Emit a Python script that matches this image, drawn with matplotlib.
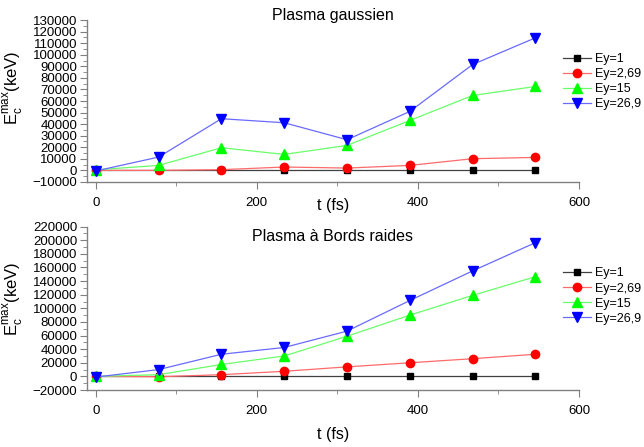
import matplotlib
matplotlib.use("Agg")
import matplotlib.pyplot as plt
from matplotlib.ticker import MultipleLocator

plt.rcParams['font.family'] = ['Liberation Sans', 'DejaVu Sans']

# temps (fs)
t = [0, 78, 156, 234, 312, 390, 468, 546]
labels = ["Ey=1", "Ey=2,69", "Ey=15", "Ey=26,9"]

# Plasma gaussien
g_ey1 = [0, 0, 0, 0, 0, 0, 0, 0]
g_ey269 = [0, 0, 600, 2900, 2000, 4300, 10100, 11200]
g_ey15 = [500, 4300, 19600, 13800, 21600, 43200, 64800, 72600]
g_ey269b = [-500, 11500, 44700, 41200, 26500, 51000, 91600, 114700]

# Plasma à bords raides
b_ey1 = [0, 0, 0, 0, 0, 0, 0, 0]
b_ey269 = [0, -500, 2500, 7500, 14000, 20000, 26000, 32500]
b_ey15 = [0, 2500, 17500, 30000, 59000, 90000, 119000, 146500]
b_ey269b = [-1000, 10000, 32500, 42500, 66500, 111500, 155000, 196500]

markers = ['s', 'o', '^', 'v']
mcolors = ['black', 'red', '#00ff00', 'blue']
lcolors = ['#404040', '#ff6a6a', '#6aff6a', '#6a6aff']
msizes = [5, 6, 7.5, 7.5]

fig = plt.figure(figsize=(6.44, 4.47), dpi=100)
ax1 = fig.add_axes([0.135, 0.593, 0.764, 0.362])
ax2 = fig.add_axes([0.135, 0.1275, 0.764, 0.3655])

def draw(ax, series, ylim, major, minor, title, title_y, leg_y):
    for s, lab, m, mc, lc, ms in zip(series, labels, markers, mcolors, lcolors, msizes):
        ax.plot(t, s, color=lc, lw=0.9, marker=m, markersize=ms,
                markerfacecolor=mc, markeredgecolor=mc, label=lab, clip_on=False)
    ax.set_xlim(-11, 600)
    ax.set_ylim(*ylim)
    ax.xaxis.set_major_locator(MultipleLocator(200))
    ax.xaxis.set_minor_locator(MultipleLocator(100))
    ax.yaxis.set_major_locator(MultipleLocator(major))
    ax.yaxis.set_minor_locator(MultipleLocator(minor))
    for side in ['top', 'right']:
        ax.spines[side].set_visible(False)
    for side in ['left', 'bottom']:
        ax.spines[side].set_color('#808080')
        ax.spines[side].set_linewidth(1.0)
    ax.tick_params(which='both', direction='out', color='#808080')
    ax.tick_params(which='major', length=5)
    ax.tick_params(which='minor', length=3)
    ax.tick_params(axis='x', pad=6, labelsize=9.5)
    ax.tick_params(axis='y', pad=2, labelsize=9.5)
    ax.set_xlabel("t (fs)", fontsize=11.5)
    ax.set_ylabel(r"E$_\mathregular{c}^\mathregular{max}$(keV)", fontsize=12)
    ax.text(0.5, title_y, title, transform=ax.transAxes, ha='center', va='center', fontsize=11.5)
    ax.legend(loc='center left', bbox_to_anchor=(0.967, leg_y), frameon=False,
              fontsize=9, handlelength=2.3, handletextpad=0.25, labelspacing=0.25,
              borderaxespad=0, borderpad=0)

draw(ax1, [g_ey1, g_ey269, g_ey15, g_ey269b], (-10000, 130000), 10000, 5000,
     "Plasma gaussien", 1.031, 0.62)
draw(ax2, [b_ey1, b_ey269, b_ey15, b_ey269b], (-20000, 220000), 20000, 10000,
     "Plasma à Bords raides", 0.937, 0.575)

ax1.xaxis.set_label_coords(0.5, -0.099)
ax2.xaxis.set_label_coords(0.5, -0.227)
ax1.yaxis.set_label_coords(-0.126, 0.58)
ax2.yaxis.set_label_coords(-0.126, 0.56)

fig.savefig("out.png", dpi=100)
